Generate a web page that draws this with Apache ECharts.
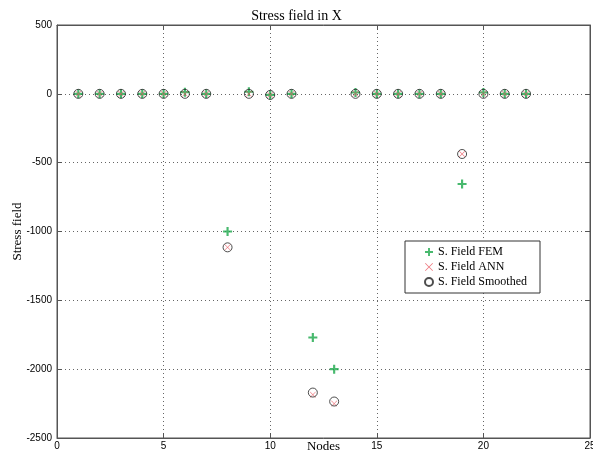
<!DOCTYPE html>
<html><head><meta charset="utf-8">
<script src="https://cdn.jsdelivr.net/npm/echarts@6/dist/echarts.min.js"></script>
<style>html,body{margin:0;padding:0;background:#fff}#c{width:593px;height:452px}</style>
</head><body><div id="c"></div>
<script>
const nodes = [1,2,3,4,5,6,7,8,9,10,11,12,13,14,15,16,17,18,19,20,21,22];
const femValues = [0,0,0,0,0,12,0,-1000,15,-8,0,-1770,-2000,10,0,0,0,0,-655,10,0,0];
const annValues = [0,0,0,0,0,0,0,-1115,0,-8,0,-2185,-2250,0,0,0,0,0,-437,0,0,0];
const smoothedValues = [0,0,0,0,0,0,0,-1115,0,-8,0,-2170,-2235,0,0,0,0,0,-437,0,0,0];
const xTicks = [0,5,10,15,20,25];
const yTicks = [-2500,-2000,-1500,-1000,-500,0,500];
const seriesNames = ['S. Field FEM','S. Field ANN','S. Field Smoothed'];

const plus = 'path://M3.8,0H6.2V3.8H10V6.2H6.2V10H3.8V6.2H0V3.8H3.8Z';
const cross = 'path://M0.7,0L5,4.3L9.3,0L10,0.7L5.7,5L10,9.3L9.3,10L5,5.7L0.7,10L0,9.3L4.3,5L0,0.7Z';
const pair = (vals) => nodes.map((n,i)=>[n, vals[i]]);
const chart = echarts.init(document.getElementById('c'));
const axisLabel = {fontFamily:'Liberation Sans', fontSize:10, color:'#000', formatter:(v)=>String(v)};
const tick = {inside:true, length:5, lineStyle:{color:'#555'}};
chart.setOption({
  animation:false,
  title:{text:'Stress field in X', left:'center', top:4, textStyle:{fontFamily:'Liberation Serif', fontWeight:'normal', fontSize:14, color:'#000'}},
  grid:{left:57, right:3, top:25, bottom:14, containLabel:false, outerBoundsMode:'none', show:true, borderColor:'#555', borderWidth:1},
  legend:{orient:'vertical', left:405, top:241, itemGap:3, itemWidth:8, itemHeight:8, padding:[5,13,5,19],
    backgroundColor:'#fff', borderColor:'#333', borderWidth:1, borderRadius:0,
    textStyle:{fontFamily:'Liberation Serif', fontSize:12, color:'#000'},
    data:[{name:seriesNames[0], icon:plus},{name:seriesNames[1], icon:cross},{name:seriesNames[2], icon:'circle'}]},
  xAxis:[{type:'value', min:xTicks[0], max:xTicks[xTicks.length-1], interval:5,
    name:'Nodes', nameLocation:'middle', nameGap:9, nameMoveOverlap:false,
    nameTextStyle:{fontFamily:'Liberation Serif', fontSize:13, color:'#000', verticalAlign:'middle'},
    axisLine:{onZero:false, lineStyle:{color:'#555'}}, axisTick:tick,
    axisLabel:Object.assign({margin:3, showMaxLabel:true}, axisLabel),
    splitLine:{show:true, lineStyle:{type:[1,3], color:'#666'}}},
   {type:'value', position:'top', min:0, max:25, interval:5, axisLabel:{show:false}, axisTick:tick, axisLine:{onZero:false, lineStyle:{color:'#555'}}, splitLine:{show:false}}],
  yAxis:[{type:'value', min:yTicks[0], max:yTicks[yTicks.length-1], interval:500,
    name:'Stress field', nameLocation:'middle', nameGap:33, nameRotate:90, nameMoveOverlap:false,
    nameTextStyle:{fontFamily:'Liberation Serif', fontSize:13, color:'#000'},
    axisLine:{show:true, onZero:false, lineStyle:{color:'#555'}}, axisTick:Object.assign({show:true}, tick),
    axisLabel:Object.assign({margin:5}, axisLabel),
    splitLine:{show:true, lineStyle:{type:[1,3], color:'#666'}}},
   {type:'value', position:'right', min:-2500, max:500, interval:500, axisLabel:{show:false}, axisTick:Object.assign({show:true}, tick), axisLine:{show:true, onZero:false, lineStyle:{color:'#555'}}, splitLine:{show:false}}],
  series:[
    {name:seriesNames[0], type:'scatter', symbol:plus, symbolSize:9, itemStyle:{color:'#1aa84a'}, data:pair(femValues)},
    {name:seriesNames[1], type:'scatter', symbol:cross, symbolSize:6, itemStyle:{color:'#e8505a'}, data:pair(annValues)},
    {name:seriesNames[2], type:'scatter', symbol:'circle', symbolSize:9, itemStyle:{color:'rgba(0,0,0,0)', borderColor:'#222', borderWidth:1}, data:pair(smoothedValues)}
  ]
});
</script></body></html>
